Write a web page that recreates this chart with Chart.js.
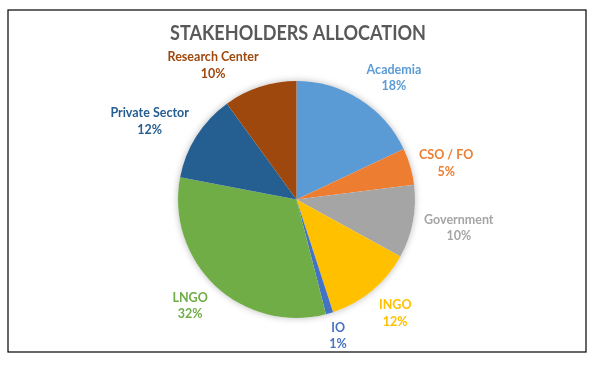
<!DOCTYPE html>
<html>
<head>
<meta charset="utf-8">
<script src="https://cdn.jsdelivr.net/npm/chart.js@4"></script>
<style>
  html, body { margin: 0; padding: 0; background: #ffffff; }
  #wrap { width: 593px; height: 366px; position: relative; }
</style>
</head>
<body>
<div id="wrap"><canvas id="c" width="593" height="366"></canvas></div>
<script>
// ---- data ----
const categories = ["Academia", "CSO / FO", "Government", "INGO", "IO", "LNGO", "Private Sector", "Research Center"];
const shares = [18, 5, 10, 12, 1, 32, 12, 10];
const chartTitle = "STAKEHOLDERS ALLOCATION";

// ---- styles ----
const sliceColors = ["#5B9BD5", "#ED7D31", "#A5A5A5", "#FFC000", "#4472C4", "#70AD47", "#255E91", "#9E480E"];
// label placement relative to each slice's mid angle (degrees shift, radius factor)
const labelAngleShift = [6.3, 2.5, -0.9, -1.4, -0.8, 1.8, -4.3, -13.8];
const labelRadiusFactor = [1.315, 1.30, 1.39, 1.27, 1.20, 1.27, 1.405, 1.335];
const FONT = "Lato, 'Open Sans', sans-serif";

const decorPlugin = {
  id: 'decor',
  beforeDatasetsDraw(chart) {
    const ctx = chart.ctx;
    const arc = chart.getDatasetMeta(0).data[0];
    if (!arc) return;
    ctx.save();
    ctx.shadowColor = 'rgba(0,0,0,0.28)';
    ctx.shadowBlur = 7;
    ctx.fillStyle = '#ffffff';
    ctx.beginPath();
    ctx.arc(arc.x, arc.y, arc.outerRadius, 0, Math.PI * 2);
    ctx.fill();
    ctx.restore();
  },
  afterDraw(chart) {
    const ctx = chart.ctx;
    ctx.save();
    // chart border
    ctx.strokeStyle = '#000000';
    ctx.lineWidth = 1.2;
    ctx.strokeRect(8, 10, 578, 342);
    // title (Calibri-like narrow proportions)
    ctx.save();
    ctx.fillStyle = '#595959';
    ctx.font = "bold 21px " + FONT;
    ctx.textAlign = 'center';
    ctx.textBaseline = 'middle';
    ctx.translate(298, 33);
    ctx.scale(0.86, 1);
    ctx.fillText(chartTitle, 0, 0);
    ctx.restore();
    // data labels
    const meta = chart.getDatasetMeta(0);
    const total = shares.reduce((a, b) => a + b, 0);
    ctx.font = "bold 12.5px " + FONT;
    ctx.textAlign = 'center';
    ctx.textBaseline = 'middle';
    meta.data.forEach((a, i) => {
      const mid = (a.startAngle + a.endAngle) / 2 + labelAngleShift[i] * Math.PI / 180;
      const R = a.outerRadius * labelRadiusFactor[i];
      const x = a.x + Math.cos(mid) * R;
      const y = a.y + Math.sin(mid) * R;
      ctx.fillStyle = sliceColors[i];
      ctx.fillText(categories[i], x, y - 8);
      ctx.fillText(Math.round(shares[i] / total * 100) + "%", x, y + 8.5);
    });
    ctx.restore();
  }
};

new Chart(document.getElementById('c'), {
  type: 'pie',
  data: {
    labels: categories,
    datasets: [{
      data: shares,
      backgroundColor: sliceColors,
      borderWidth: 0,
      hoverOffset: 0
    }]
  },
  options: {
    responsive: false,
    animation: false,
    layout: { padding: { top: 81, bottom: 48, left: 0, right: 0 } },
    plugins: {
      legend: { display: false },
      title: { display: false },
      tooltip: { enabled: false }
    }
  },
  plugins: [decorPlugin]
});
</script>
</body>
</html>
